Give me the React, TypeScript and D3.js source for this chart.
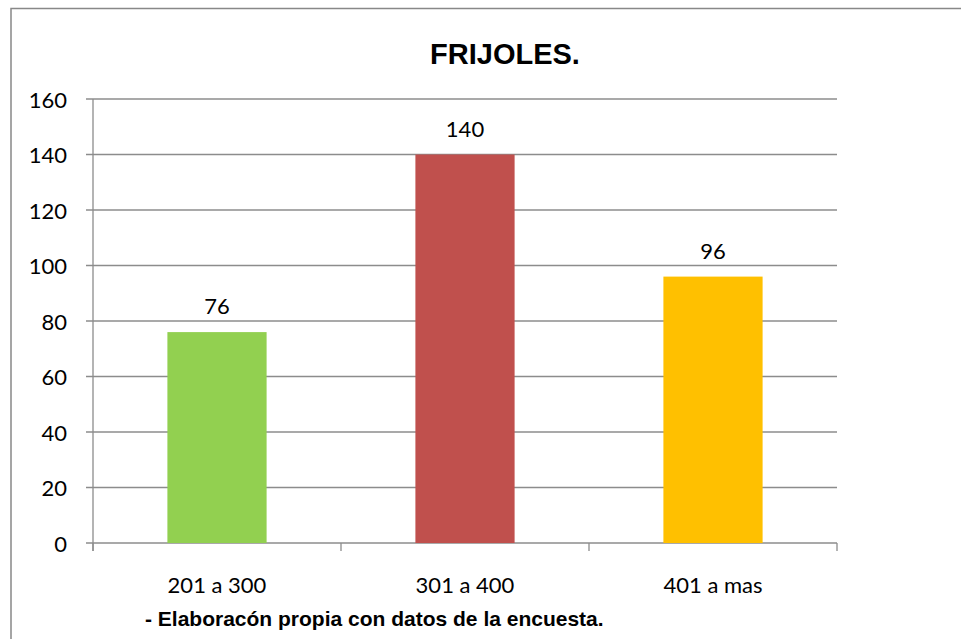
import React from "react";
import * as d3 from "d3";

const categories = ["201 a 300", "301 a 400", "401 a mas"];
const values = [76, 140, 96];
const colors = ["#92D050", "#C0504D", "#FFC000"];
const yTicks = [0, 20, 40, 60, 80, 100, 120, 140, 160];
const title = "FRIJOLES.";
const note = "- Elaboracón propia con datos de la encuesta.";

export default function App() {
  const W = 961, H = 639;
  const x0 = 93, x1 = 837, yTop = 99, yBot = 543;
  const x = d3.scaleBand<string>().domain(categories).range([x0, x1]).paddingInner(0.6).paddingOuter(0.3);
  const y = d3.scaleLinear().domain([0, 160]).range([yBot, yTop]);
  const step = (x1 - x0) / categories.length;
  const grid = "#8c8c8c";
  const lab = "Lato, 'Open Sans', sans-serif";
  return (
    <svg width={W} height={H} style={{ position: "absolute", left: 0, top: 0 }}>
      <rect x={0} y={0} width={W} height={H} fill="#fff" />
      <rect x={11} y={8.5} width={W + 20} height={H + 20} fill="#fff" stroke="#888" strokeWidth={1.5} />
      <text x={505} y={64} textAnchor="middle" fontFamily="'Liberation Sans', Arial, sans-serif" fontWeight="bold" fontSize={29} fill="#000">{title}</text>
      {yTicks.map((t) => (
        <g key={t}>
          <line x1={86} x2={x1} y1={y(t)} y2={y(t)} stroke={grid} strokeWidth={1.3} />
          <text x={67} y={y(t) + 8.5} textAnchor="end" fontFamily={lab} fontSize={22} fill="#000">{t}</text>
        </g>
      ))}
      <line x1={x0} x2={x0} y1={yTop} y2={yBot + 8} stroke={grid} strokeWidth={1.3} />
      {d3.range(categories.length + 1).map((i) => (
        <line key={i} x1={x0 + i * step} x2={x0 + i * step} y1={yBot} y2={yBot + 8} stroke={grid} strokeWidth={1.3} />
      ))}
      {categories.map((c, i) => (
        <g key={c}>
          <rect x={x(c)} y={y(values[i])} width={x.bandwidth()} height={yBot - y(values[i])} fill={colors[i]} />
          <text x={x(c)! + x.bandwidth() / 2} y={y(values[i]) - 18} textAnchor="middle" fontFamily={lab} fontSize={22} fill="#000">{values[i]}</text>
          <text x={x(c)! + x.bandwidth() / 2} y={593} textAnchor="middle" fontFamily={lab} fontSize={22} fill="#000">{c}</text>
        </g>
      ))}
      <text x={145} y={626} fontFamily="'Liberation Sans', Arial, sans-serif" fontWeight="bold" fontSize={21} fill="#000">{note}</text>
    </svg>
  );
}
